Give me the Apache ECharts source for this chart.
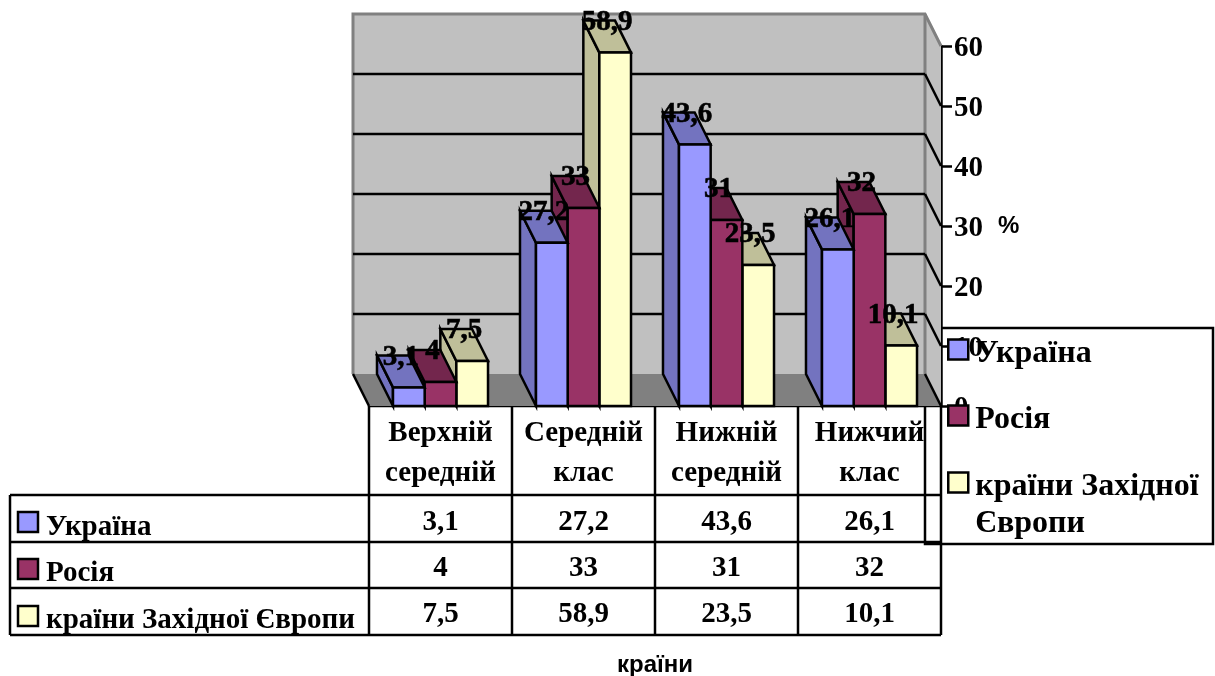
<!DOCTYPE html>
<html>
<head>
<meta charset="utf-8">
<style>html,body{margin:0;padding:0;background:#fff}#chart{width:1215px;height:676px}</style>
<script src="https://cdn.jsdelivr.net/npm/echarts@6/dist/echarts.min.js"></script>
</head>
<body>
<div id="chart"></div>
<script>
// стовпчики 3D-вигляду + таблиця даних під графіком
const categories = ['Верхній\nсередній', 'Середній\nклас', 'Нижній\nсередній', 'Нижчий\nклас']
const ukraine = [3.1, 27.2, 43.6, 26.1]
const russia = [4, 33, 31, 32]
const westEurope = [7.5, 58.9, 23.5, 10.1]
const seriesNames = ['Україна', 'Росія', 'країни Західної Європи']
const seriesValues = [ukraine, russia, westEurope]
const fronts = ['#9999FF', '#993366', '#FFFFCC']
const shades = ['#7373BF', '#73264D', '#BFBF99']
const gridTicks = [0, 10, 20, 30, 40, 50, 60]

const SERIF = '"Liberation Serif", serif'
const DX = 16, DY = 32       // глибина "3D"
const BAR_RATIO = 0.2215
const LW = 2.5

const fmt = v => String(v).replace('.', ',')

function barSeries(si) {
  return {
    type: 'custom',
    name: seriesNames[si],
    z: 5 - si,
    itemStyle: { color: fronts[si] },
    data: seriesValues[si].map((v, i) => [i, v]),
    renderItem: (params, api) => {
      const top = api.coord([api.value(0), api.value(1)])
      const base = api.coord([api.value(0), 0])
      const w = api.size([1, 0])[0] * BAR_RATIO
      const x0 = top[0] + (si - 1.5) * w
      const x1 = x0 + w
      const stroke = { stroke: '#000', lineWidth: LW, lineJoin: 'miter' }
      return {
        type: 'group',
        children: [
          { type: 'polygon', shape: { points: [[x0 - DX, top[1] - DY], [x0, top[1]], [x0, base[1]], [x0 - DX, base[1] - DY]] }, style: { fill: shades[si], ...stroke } },
          { type: 'polygon', shape: { points: [[x0 - DX, top[1] - DY], [x1 - DX, top[1] - DY], [x1, top[1]], [x0, top[1]]] }, style: { fill: shades[si], ...stroke } },
          { type: 'rect', shape: { x: x0, y: top[1], width: w, height: base[1] - top[1] }, style: { fill: fronts[si], ...stroke } }
        ]
      }
    }
  }
}

// підписи значень — поверх усіх стовпчиків
function labelSeries(si) {
  return {
    type: 'custom',
    name: 'labels' + si,
    z: 10 + si,
    silent: true,
    data: seriesValues[si].map((v, i) => [i, v]),
    renderItem: (params, api) => {
      const top = api.coord([api.value(0), api.value(1)])
      const w = api.size([1, 0])[0] * BAR_RATIO
      return {
        type: 'text',
        x: top[0] + (si - 1) * w - DX / 2,
        y: top[1] - DY + 2,
        style: { text: fmt(api.value(1)), fill: '#000', stroke: '#000', lineWidth: 0.6, font: 'bold 29px ' + SERIF, align: 'center', verticalAlign: 'middle' }
      }
    }
  }
}

const wallSeries = {
  type: 'custom',
  name: 'wall',
  z: 1,
  silent: true,
  data: [[0, 60]],
  renderItem: (params, api) => {
    const cs = params.coordSys
    const t = cs.y, b = cs.y + cs.height, l = cs.x, r = cs.x + cs.width
    const edge = { stroke: '#808080', lineWidth: 3 }
    return {
      type: 'group',
      children: [
        { type: 'polygon', shape: { points: [[l - DX, t - DY], [r - DX, t - DY], [r - DX, b - DY], [l - DX, b - DY]] }, style: { fill: '#C0C0C0' } },
        { type: 'polygon', shape: { points: [[r - DX, t - DY], [r, t], [r, b], [r - DX, b - DY]] }, style: { fill: '#C0C0C0' } },
        { type: 'polygon', shape: { points: [[l - DX, b - DY], [r - DX, b - DY], [r, b], [l, b]] }, style: { fill: '#808080' } },
        { type: 'polyline', shape: { points: [[l - DX, b - DY], [l - DX, t - DY], [r - DX, t - DY], [r, t]] }, style: { fill: 'none', ...edge } },
        { type: 'line', shape: { x1: r - DX, y1: t - DY, x2: r - DX, y2: b - DY }, style: edge },
        { type: 'line', shape: { x1: l - DX, y1: b - DY, x2: l, y2: b }, style: { stroke: '#000', lineWidth: LW } }
      ]
    }
  }
}

const gridLineSeries = {
  type: 'custom',
  name: 'gridLines',
  z: 2,
  silent: true,
  data: gridTicks.slice(0, -1).map(v => [0, v]),
  renderItem: (params, api) => {
    const cs = params.coordSys
    const y = api.coord([0, api.value(1)])[1]
    const l = cs.x, r = cs.x + cs.width
    const st = { stroke: '#000', lineWidth: LW }
    const children = [{ type: 'line', shape: { x1: r - DX, y1: y - DY, x2: r, y2: y }, style: st }]
    if (api.value(1) > 0) children.push({ type: 'line', shape: { x1: l - DX, y1: y - DY, x2: r - DX, y2: y - DY }, style: st })
    return { type: 'group', children }
  }
}

// таблиця даних
const tableCols = [10, 369, 512, 655, 798, 941]
const tableRows = [495, 542, 588, 635]
const rowCenters = [523, 569, 615]
const tableTextY = [528, 574, 621]
const markerTops = [512, 559, 606]

const tableValuesSeries = {
  type: 'custom',
  name: 'tableValues',
  z: 12,
  silent: true,
  data: seriesValues.flatMap((vals, r) => vals.map((v, i) => [i, v, r])),
  renderItem: (params, api) => ({
    type: 'text',
    x: api.coord([api.value(0), 0])[0],
    y: rowCenters[api.value(2)],
    style: { text: fmt(api.value(1)), fill: '#000', font: 'bold 29px ' + SERIF, align: 'center', verticalAlign: 'middle' }
  })
}

const tableGraphics = []
const lineStyle = { stroke: '#000', lineWidth: LW }
tableRows.forEach(y => {
  tableGraphics.push({ type: 'line', shape: { x1: 10, y1: y, x2: 941, y2: y }, style: lineStyle })
})
tableGraphics.push({ type: 'line', shape: { x1: 369, y1: 406, x2: 941, y2: 406 }, style: lineStyle })
tableCols.forEach(x => {
  tableGraphics.push({ type: 'line', shape: { x1: x, y1: x === 10 ? 495 : 406, x2: x, y2: 635 }, style: lineStyle })
})
seriesNames.forEach((name, r) => {
  tableGraphics.push({ type: 'rect', shape: { x: 18, y: markerTops[r], width: 20, height: 20 }, style: { fill: fronts[r], stroke: '#000', lineWidth: LW } })
  tableGraphics.push({ type: 'text', x: 46, y: tableTextY[r], style: { text: name, fill: '#000', font: 'bold 29px ' + SERIF, verticalAlign: 'middle' } })
})
// рамка легенди без заливки
tableGraphics.push({ type: 'rect', shape: { x: 925, y: 328, width: 288, height: 216 }, style: { fill: 'none', stroke: '#000', lineWidth: LW } })

const legendItem = i => ({ name: seriesNames[i], icon: 'rect', itemStyle: { color: fronts[i], borderColor: '#000', borderWidth: LW } })
const legendFont = { fontFamily: SERIF, fontWeight: 'bold', fontSize: 32, color: '#000', lineHeight: 37 }
// t — рядок, зсунутий вниз відносно маркера
const legendText = {
  ...legendFont,
  rich: {
    t: { ...legendFont, height: 37, padding: [8, 0, 0, 2] }
  }
}

const chart = echarts.init(document.getElementById('chart'))
chart.setOption({
  animation: false,
  backgroundColor: '#fff',
  grid: { left: 369, right: 274, top: 46, bottom: 270, outerBoundsMode: 'none' },
  xAxis: {
    type: 'category',
    data: categories,
    name: 'країни',
    nameLocation: 'middle',
    nameGap: 259,
    nameTextStyle: { fontFamily: '"Liberation Sans", Arial, sans-serif', fontWeight: 'bold', fontSize: 24, color: '#000', verticalAlign: 'middle' },
    axisLine: { show: false },
    axisTick: { show: false },
    axisLabel: { interval: 0, margin: 8, fontFamily: SERIF, fontWeight: 'bold', fontSize: 29, lineHeight: 40, color: '#000', verticalAlign: 'top' }
  },
  yAxis: {
    type: 'value',
    position: 'right',
    min: 0,
    max: 60,
    interval: 10,
    name: '%',
    nameLocation: 'middle',
    nameRotate: 0,
    nameGap: 57,
    nameTextStyle: { fontFamily: '"Liberation Sans", Arial, sans-serif', fontWeight: 'bold', fontSize: 24, color: '#000' },
    splitLine: { show: false },
    axisLine: { show: true, lineStyle: { color: '#000', width: LW } },
    axisTick: { show: true, length: 11, lineStyle: { color: '#000', width: LW } },
    axisLabel: {
      margin: 13,
      formatter: '{v|{value}}',
      rich: { v: { fontFamily: SERIF, fontWeight: 'bold', fontSize: 29, color: '#000', padding: [5, 0, 0, 0] } }
    }
  },
  legend: [
    { left: 947, top: 327, orient: 'vertical', padding: 0, itemWidth: 20, itemHeight: 20, itemGap: 21, selectedMode: false, textStyle: legendText, data: [legendItem(0), legendItem(1)], formatter: name => `{t|${name}}` },
    { left: 947, top: 427, orient: 'vertical', padding: 0, itemWidth: 20, itemHeight: 20, selectedMode: false, textStyle: legendText, data: [legendItem(2)], formatter: () => '\n{t|країни Західної}\n{t|Європи}' }
  ],
  graphic: tableGraphics,
  series: [
    wallSeries,
    gridLineSeries,
    barSeries(0), barSeries(1), barSeries(2),
    labelSeries(0), labelSeries(1), labelSeries(2),
    tableValuesSeries
  ]
})
</script>
</body>
</html>
